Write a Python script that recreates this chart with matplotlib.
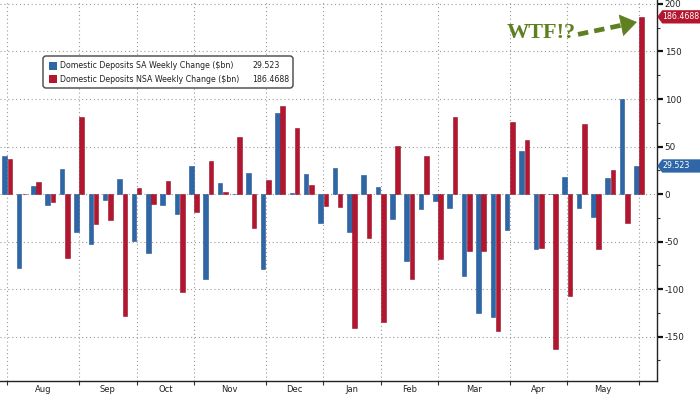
import matplotlib
matplotlib.use("Agg")
import matplotlib.pyplot as plt
import numpy as np
from matplotlib.patches import Polygon, FancyBboxPatch, Rectangle
from matplotlib.transforms import IdentityTransform

# ---- data ----
sa_label = "Domestic Deposits SA Weekly Change ($bn)"
nsa_label = "Domestic Deposits NSA Weekly Change ($bn)"
sa = [40.5, -77.5, 8.8, -11.6, 26.4, -40.5, -53, -6.3, 16, -49, -62, -11.6, -21,
      29.6, -89, 11.3, 0.5, 21.8, -78.5, 85, 1, 21, -30, 27, -40, 20.4, 7.4,
      -26.8, -71, -16.2, -7.7, -14.8, -86.6, -125, -129.6, -37.7, 45.4, -57.7,
      0.5, 18, -15, -24, 17, 100, 29.523]
nsa = [37, -0.5, 13, -8.8, -67, 81, -32, -27, -128.5, 6.3, -10.6, 13.7, -103,
       -19.4, 34.5, 2, 60, -36, 14.4, 93, 69, 9, -12.7, -14, -141, -45.8, -135,
       51, -89, 39.8, -68.3, 81.3, -60, -60, -143.7, 75.7, 57, -57, -163, -107,
       73.6, -57.7, 25.7, -31, 186.4688]
months = ['Aug', 'Sep', 'Oct', 'Nov', 'Dec', 'Jan', 'Feb', 'Mar', 'Apr', 'May']
weeks_per_month = [5, 4, 4, 5, 4, 4, 4, 5, 4, 5]
yticks = [-150, -100, -50, 0, 50, 100, 150, 200]
sa_last = "29.523"
nsa_last = "186.4688"

BLUE = '#2f66a7'
RED = '#b3172f'
GREEN = '#5f8020'

fig = plt.figure(figsize=(7, 3.94), dpi=100)
ax = fig.add_axes([0, 13 / 394, 657 / 700, 1 - 13 / 394])

x = np.arange(len(sa))
w = 0.32
ax.bar(x - 0.185, sa, width=w, color=BLUE, edgecolor='#24558e', linewidth=0.4, zorder=3)
ax.bar(x + 0.185, nsa, width=w, color=RED, edgecolor='#96122a', linewidth=0.4, zorder=3)

ax.set_xlim(-0.51, 45.25)
ax.set_ylim(-196.8, 204.2)

# month separators
bounds = np.concatenate([[0], np.cumsum(weeks_per_month)])
mids = (bounds[:-1] + bounds[1:]) / 2
ax.set_xticks(bounds)
ax.set_xticklabels([])
ax.set_xticks(mids, minor=True)
ax.set_xticklabels(months, minor=True, fontsize=6.0, color='#222222')
ax.tick_params(axis='x', which='major', direction='out', length=3, width=0.8, color='#333333')
ax.tick_params(axis='x', which='minor', length=0, pad=3)

for b in bounds:
    ax.axvline(b, color='#9a9a9a', linestyle=(0, (1, 2.5)), linewidth=0.8, zorder=1)
for yt in yticks:
    ax.axhline(yt, color='#9a9a9a', linestyle=(0, (1, 2.5)), linewidth=0.8, zorder=1)

# right axis
ax.yaxis.tick_right()
ax.set_yticks(yticks)
ax.set_yticklabels([str(v) for v in yticks], fontsize=6.3, color='#222222')
ax.set_yticks(np.arange(-175, 201, 50), minor=True)
ax.tick_params(axis='y', which='major', direction='out', length=4, width=1.6, pad=1.5, color='#111111')
ax.tick_params(axis='y', which='minor', direction='out', length=2.5, width=0.8, color='#333333')

for s in ['left', 'top']:
    ax.spines[s].set_visible(False)
ax.spines['right'].set_linewidth(1.0)
ax.spines['bottom'].set_linewidth(1.0)
ax.spines['right'].set_color('#222222')
ax.spines['bottom'].set_color('#222222')

# value tags on right axis
trans = ax.get_yaxis_transform()
for val, txt, col in [(sa[-1], sa_last, BLUE), (nsa[-1], nsa_last, RED)]:
    h = 7.0
    poly = Polygon([[1.0005, val], [1.008, val + h], [1.07, val + h], [1.07, val - h], [1.008, val - h]],
                   closed=True, transform=trans, clip_on=False, facecolor=col, edgecolor='none', zorder=5)
    ax.add_patch(poly)
    ax.text(1.0085, val, txt, transform=trans, color='white', fontsize=5.7,
            va='center', ha='left', clip_on=False, zorder=6)

# WTF annotation
ax.text(37.2, 169.0, "WTF!?", fontsize=16, fontweight='bold', family='Liberation Serif',
        color=GREEN, ha='center', va='center', zorder=6)
ax.plot([39.75, 42.9], [168.0, 178.0], color=GREEN, lw=3.4, linestyle=(0, (2.2, 1.3)),
        solid_capstyle='butt', dash_capstyle='butt', zorder=6)
ax.annotate('', xy=(43.85, 181.0), xytext=(42.8, 177.7),
            arrowprops=dict(arrowstyle='-|>,head_length=1.1,head_width=0.75', color=GREEN,
                            lw=0.5, shrinkA=0, shrinkB=0, mutation_scale=10), zorder=6)

# legend (manual, pixel coordinates; origin bottom-left)
H = 394
idt = IdentityTransform()
box = FancyBboxPatch((43, H - 88), 250, 32, boxstyle="round,pad=0,rounding_size=3",
                     transform=idt, facecolor='white', edgecolor='#444444', linewidth=1.0, zorder=10)
fig.patches.append(box)
for i, (lab, val, col) in enumerate([(sa_label, sa_last, BLUE), (nsa_label, nsa_last, RED)]):
    yc = H - (65.5 + i * 13.5)
    fig.patches.append(Rectangle((49, yc - 4), 8, 8, transform=idt, facecolor=col,
                                 edgecolor='none', zorder=11))
    fig.text(60 / 700, yc / H, lab, fontsize=5.7, color='#222222', va='center', ha='left', zorder=12)
    fig.text(252 / 700, yc / H, val, fontsize=5.7, color='#222222', va='center', ha='left', zorder=12)

fig.savefig("out.png", dpi=100)
